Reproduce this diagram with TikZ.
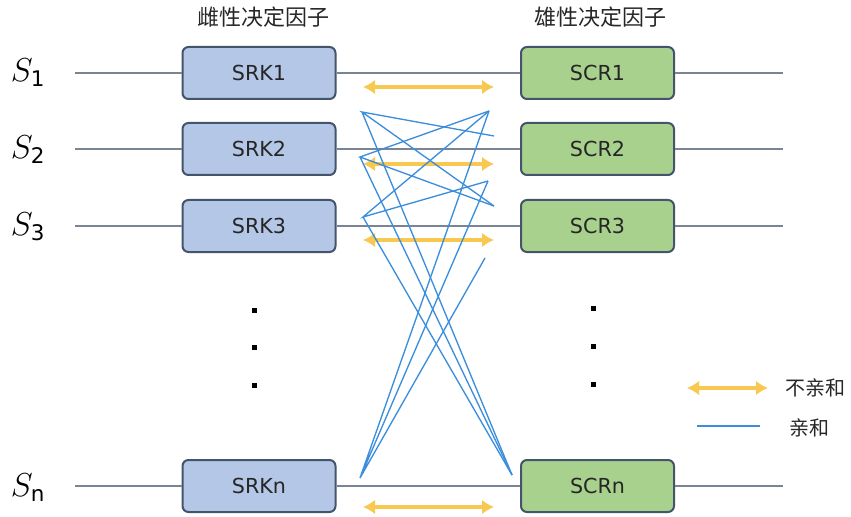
\documentclass[tikz,border=0pt]{standalone}
\usepackage{fontspec}
\setmainfont{DejaVu Sans}
\newfontfamily\cjk{Noto Sans CJK SC}
\usepackage{xcolor}
\usetikzlibrary{arrows.meta,positioning}
\definecolor{srkfill}{HTML}{B4C7E7}
\definecolor{scrfill}{HTML}{A9D18E}
\definecolor{boxline}{HTML}{44546A}
\definecolor{rowline}{HTML}{7A8594}
\definecolor{mateblue}{HTML}{3A8EDB}
\definecolor{nomate}{HTML}{F8C850}
\begin{document}
\begin{tikzpicture}[x=0.75pt,y=-0.75pt,
  srk/.style={draw=boxline,fill=srkfill,line width=1.5pt,rounded corners=4.5pt,
              minimum width=114.75pt,minimum height=39pt,
              font=\fontsize{15.5}{17}\selectfont,text=black!85},
  scr/.style={srk,fill=scrfill},
  row/.style={draw=rowline,line width=1.1pt},
  yarr/.style={{Latex[length=9pt,width=11pt]}-{Latex[length=9pt,width=11pt]},
               nomate,line width=3pt},
  blu/.style={mateblue,line width=1pt},
  slab/.style={font=\fontsize{23}{25}\selectfont},
  ttl/.style={font=\cjk\fontsize{16.5}{18}\selectfont,text=black!85}
]
\useasboundingbox (0,0) rectangle (851,517);
% Titles
\node[ttl] (ftitle) at (263,17) {雌性决定因子};
\node[ttl] (mtitle) at (600,17) {雄性决定因子};
% Female determinants
\node[srk] (srk1) at (259,73) {SRK1};
\node[srk] (srk2) at (259,149) {SRK2};
\node[srk] (srk3) at (259,226) {SRK3};
\node[srk] (srkn) at (259,486) {SRKn};
% Male determinants
\node[scr] (scr1) at (597.5,73) {SCR1};
\node[scr] (scr2) at (597.5,149) {SCR2};
\node[scr] (scr3) at (597.5,226) {SCR3};
\node[scr] (scrn) at (597.5,486) {SCRn};
% S alleles
\node[slab] (s1) at (28,73) {$S_{\mathrm{1}}$};
\node[slab] (s2) at (28,150) {$S_{\mathrm{2}}$};
\node[slab] (s3) at (28,227) {$S_{\mathrm{3}}$};
\node[slab] (sn) at (28,488) {$S_{\mathrm{n}}$};
% Row lines
\coordinate (w1) at (75,73);  \coordinate (e1) at (783,73);
\coordinate (w2) at (75,149); \coordinate (e2) at (783,149);
\coordinate (w3) at (75,226); \coordinate (e3) at (783,226);
\coordinate (wn) at (75,486); \coordinate (en) at (783,486);
\draw[row] (w1) -- (srk1.west) (srk1.east) -- (scr1.west) (scr1.east) -- (e1);
\draw[row] (w2) -- (srk2.west) (srk2.east) -- (scr2.west) (scr2.east) -- (e2);
\draw[row] (w3) -- (srk3.west) (srk3.east) -- (scr3.west) (scr3.east) -- (e3);
\draw[row] (wn) -- (srkn.west) (srkn.east) -- (scrn.west) (scrn.east) -- (en);
% Dots
\foreach \y in {310,347,385} \fill (251.5,\y-2.5) rectangle ++(5,5);
\foreach \y in {308,346,384} \fill (590.5,\y-2.5) rectangle ++(5,5);
% Incompatible pairs
\coordinate (i1a) at (363,87);  \coordinate (i1b) at (494,87);
\coordinate (i2a) at (363,164); \coordinate (i2b) at (494,164);
\coordinate (i3a) at (363,240); \coordinate (i3b) at (494,240);
\coordinate (ina) at (363,507); \coordinate (inb) at (494,507);
\draw[yarr] (i1a) -- (i1b);
\draw[yarr] (i2a) -- (i2b);
\draw[yarr] (i3a) -- (i3b);
\draw[yarr] (ina) -- (inb);
% Compatible pairs
\coordinate (k1) at (362,112);
\coordinate (k2) at (360,157);
\coordinate (k3) at (363,217);
\coordinate (kn) at (360,478);
\coordinate (c1) at (489,111);
\coordinate (c2a) at (494,136);
\coordinate (c2b) at (488,181);
\coordinate (c3a) at (494,206);
\coordinate (c3b) at (485,258);
\coordinate (cn) at (512,475);
\draw[blu] (c2a) -- (k1) -- (c3a) (k1) -- (cn);
\draw[blu] (c1) -- (k2) -- (c3a) (k2) -- (cn);
\draw[blu] (c1) -- (k3) -- (c2b) (k3) -- (cn);
\draw[blu] (c1) -- (kn) -- (c2b) (kn) -- (c3b);
% Legend
\coordinate (la) at (687,388); \coordinate (lb) at (768,388);
\coordinate (ma) at (697,426); \coordinate (mb) at (760,426);
\draw[yarr] (la) -- (lb);
\draw[blu,line width=1.1pt] (ma) -- (mb);
\node[font=\cjk\fontsize{15}{17}\selectfont,text=black!85] (lnomate) at (815,388) {不亲和};
\node[font=\cjk\fontsize{15}{17}\selectfont,text=black!85] (lmate) at (809,428) {亲和};
\end{tikzpicture}
\end{document}
